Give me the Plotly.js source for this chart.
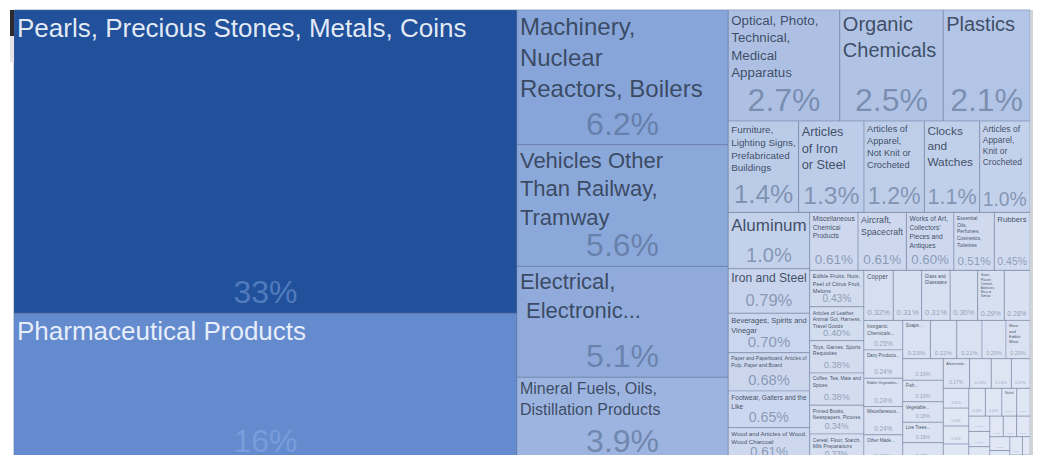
<!DOCTYPE html>
<html>
<head>
<meta charset="utf-8">
<script src="https://cdn.plot.ly/plotly-3.0.1.min.js"></script>
<style>
html, body { margin: 0; padding: 0; background: #ffffff; overflow: hidden; }
#chart { width: 1048px; height: 472px; }
</style>
</head>
<body>
<div id="chart"></div>
<script>
// ---- data (shares of total, %) in the order the tiles are laid out ----
const categories = [
  "Pearls, Precious Stones, Metals, Coins",
  "Pharmaceutical Products",
  "Machinery, Nuclear Reactors, Boilers",
  "Vehicles Other Than Railway, Tramway",
  "Electrical, Electronic Machinery",
  "Mineral Fuels, Oils, Distillation Products",
  "Optical, Photo, Technical, Medical Apparatus",
  "Organic Chemicals",
  "Plastics",
  "Furniture, Lighting Signs, Prefabricated Buildings",
  "Articles of Iron or Steel",
  "Articles of Apparel, Not Knit or Crocheted",
  "Clocks and Watches",
  "Articles of Apparel, Knit or Crocheted",
  "Aluminum",
  "Iron and Steel",
  "Beverages, Spirits and Vinegar",
  "Paper and Paperboard, Articles of Pulp, Paper and Board",
  "Footwear, Gaiters and the Like",
  "Wood and Articles of Wood, Wood Charcoal",
  "Miscellaneous Chemical Products",
  "Aircraft, Spacecraft",
  "Works of Art, Collectors' Pieces and Antiques",
  "Essential Oils, Perfumes, Cosmetics, Toiletries",
  "Rubbers",
  "Edible Fruits, Nuts, Peel of Citrus Fruit, Melons",
  "Articles of Leather, Animal Gut, Harness, Travel Goods",
  "Toys, Games, Sports Requisites",
  "Coffee, Tea, Mate and Spices",
  "Printed Books, Newspapers, Pictures",
  "Cereal, Flour, Starch, Milk Preparations",
  "Copper",
  "Ships, Boats and Floating Structures",
  "Glass and Glassware",
  "Tanning or Dyeing Extracts",
  "Stone, Plaster, Cement, Asbestos, Mica or Similar",
  "Railway, Tramway Locomotives",
  "Inorganic Chemicals",
  "Dairy Products",
  "Edible Vegetables",
  "Miscellaneous Edible Preparations",
  "Other Made Up Textile Articles",
  "Soaps, Lubricants, Waxes",
  "Tools, Implements, Cutlery",
  "Photographic or Cinematographic Goods",
  "Ceramic Products",
  "Meat and Edible Meat Offal",
  "Sugars and Sugar Confectionery",
  "Fish and Crustaceans",
  "Vegetable, Fruit, Nut Preparations",
  "Live Trees and Other Plants",
  "Knitted or Crocheted Fabrics",
  "Albuminoidal Substances",
  "Cocoa and Cocoa Preparations",
  "Arms and Ammunition",
  "Musical Instruments",
  "Tobacco",
  "Lac, Gums, Resins",
  "Headgear",
  "Umbrellas, Walking-Sticks",
  "Preparations of Meat, Fish",
  "Miscellaneous Articles of Base Metal",
  "Nickel",
  "Zinc",
  "Tin",
  "Lead",
  "Cotton",
  "Silk",
  "Fertilizers",
  "Salt, Sulphur, Earth, Stone",
  "Animal, Vegetable Fats and Oils",
  "Explosives",
  "Man-made Filaments",
  "Carpets",
  "Feathers"
];

const shareValues = [
  33.2, 16.3,
  6.2, 5.6, 5.1, 3.9,
  2.7, 2.5, 2.1,
  1.4, 1.3, 1.2, 1.1, 1.0,
  1.0, 0.79, 0.70, 0.68, 0.65, 0.61,
  0.61, 0.61, 0.60, 0.51, 0.45,
  0.43, 0.40, 0.38, 0.38, 0.34, 0.33,
  0.32, 0.31, 0.31, 0.30, 0.29, 0.28,
  0.25, 0.24, 0.24, 0.24, 0.23, 0.23,
  0.22, 0.21, 0.20, 0.20, 0.19,
  0.19, 0.18, 0.18, 0.17, 0.17,
  0.14, 0.13, 0.12, 0.11,
  0.10, 0.10, 0.10, 0.10, 0.10,
  0.09, 0.08, 0.07, 0.07, 0.07, 0.06, 0.06, 0.06, 0.06, 0.05, 0.05, 0.03, 0.03
];

// tile captions as they are broken in the picture ("" = no caption shown)
const tileCaptions = [
  "Pearls, Precious Stones, Metals, Coins",
  "Pharmaceutical Products",
  "Machinery,<br>Nuclear<br>Reactors, Boilers",
  "Vehicles Other<br>Than Railway,<br>Tramway",
  "Electrical,<br> Electronic...",
  "Mineral Fuels, Oils,<br>Distillation Products",
  "Optical, Photo,<br>Technical,<br>Medical<br>Apparatus",
  "Organic<br>Chemicals",
  "Plastics",
  "Furniture,<br>Lighting Signs,<br>Prefabricated<br>Buildings",
  "Articles<br>of Iron<br>or Steel",
  "Articles of<br>Apparel,<br>Not Knit or<br>Crocheted",
  "Clocks<br>and<br>Watches",
  "Articles of<br>Apparel,<br>Knit or<br>Crocheted",
  "Aluminum",
  "Iron and Steel",
  "Beverages, Spirits and<br>Vinegar",
  "Paper and Paperboard, Articles of<br>Pulp, Paper and Board",
  "Footwear, Gaiters and the<br>Like",
  "Wood and Articles of Wood,<br>Wood Charcoal",
  "Miscellaneous<br>Chemical<br>Products",
  "Aircraft,<br>Spacecraft",
  "Works of Art,<br>Collectors'<br>Pieces and<br>Antiques",
  "Essential<br>Oils,<br>Perfumes,<br>Cosmetics,<br>Toiletries",
  "Rubbers",
  "Edible Fruits, Nuts,<br>Peel of Citrus Fruit,<br>Melons",
  "Articles of Leather,<br>Animal Gut, Harness,<br>Travel Goods",
  "Toys, Games, Sports<br>Requisites",
  "Coffee, Tea, Mate and<br>Spices",
  "Printed Books,<br>Newspapers, Pictures",
  "Cereal, Flour, Starch,<br>Milk Preparations",
  "Copper",
  "",
  "Glass and<br>Glassware",
  "",
  "Stone,<br>Plaster,<br>Cement,<br>Asbestos,<br>Mica or<br>Similar",
  "",
  "Inorganic<br>Chemicals...",
  "Dairy Products...",
  "Edible Vegetables...",
  "Miscellaneous...",
  "Other Made...",
  "Soaps...",
  "", "", "",
  "Meat<br>and<br>Edible<br>Meat...",
  "",
  "Fish...",
  "Vegetable...",
  "Live Trees...",
  "",
  "Albuminoids...",
  "", "", "", "",
  "", "", "", "", "",
  "Nickel",
  "", "", "", "", "", "", "", "", "", "", "", ""
];

// ---- styling derived from the values ----
const colorAnchors = [
  [0.03, "#e3e9f5"], [0.1, "#dfe6f4"], [0.3, "#d7e0f1"], [0.6, "#cdd8ee"],
  [1.0, "#c3d1eb"], [1.4, "#bacbe8"], [2.5, "#b0c3e5"], [3.9, "#9cb4df"],
  [6.0, "#88a6d9"], [16, "#668dcf"], [33.2, "#22519b"]
];
const lmin = Math.log10(colorAnchors[0][0]);
const lmax = Math.log10(colorAnchors[colorAnchors.length - 1][0]);
const colorscale = colorAnchors.map(([v, c]) => [(Math.log10(v) - lmin) / (lmax - lmin), c]);
const colorValues = shareValues.map(v => Math.log10(v));

const parents = categories.map(() => "");
const FONT = "Liberation Sans, Arial, Helvetica, sans-serif";

const lineCount = tileCaptions.map(t => t.split("<br>").length);
const labelSizes = shareValues.map((v, i) => {
  const cap = v >= 10 ? 26 : v >= 6 ? 24 : v >= 5 ? 22 : v >= 3 ? 16 : v >= 1 ? 20 : Math.max(4.5, 20 * v);
  return Math.max(1, Math.min(cap, 34 * Math.pow(v, 0.45) / lineCount[i]));
});
const labelColors = shareValues.map(v => v >= 10 ? "rgba(240,245,252,0.95)" : "rgba(52,66,88,0.92)");
const pctSizes = shareValues.map(v => Math.min(32, 20 * Math.pow(v, 0.8)));
const pctColors = shareValues.map(v => v >= 10 ? "rgba(150,185,240,0.42)" : "rgba(70,90,125,0.5)");

const common = {
  type: "treemap",
  labels: categories,
  parents: parents,
  values: shareValues,
  branchvalues: "remainder",
  sort: false,
  tiling: { packing: "squarify", squarifyratio: 1.618034, pad: 0 },
  pathbar: { visible: false },
  domain: { x: [0, 1], y: [0, 1] },
  hoverinfo: "none",
  leaf: { opacity: 1 }
};

const tiles = Object.assign({}, common, {
  text: tileCaptions,
  texttemplate: "%{text}",
  textposition: "top left",
  textfont: { family: FONT, size: labelSizes, color: labelColors },
  insidetextfont: { family: FONT, size: labelSizes, color: labelColors },
  marker: {
    colors: colorValues,
    colorscale: colorscale,
    cmin: lmin, cmax: lmax,
    showscale: false,
    depthfade: false,
    pad: { t: 0, l: 0, r: 0, b: 0 },
    line: { width: 1, color: "rgba(95,115,155,0.35)" }
  }
});

const shares = Object.assign({}, common, {
  texttemplate: "%{percentRoot:.2p}",
  textposition: "bottom center",
  textfont: { family: FONT, size: pctSizes, color: pctColors },
  insidetextfont: { family: FONT, size: pctSizes, color: pctColors },
  marker: {
    colors: shareValues.map(() => "rgba(0,0,0,0)"),
    depthfade: false,
    pad: { t: 0, l: 0, r: 0, b: 0 },
    line: { width: 0 }
  }
});

const layout = {
  width: 1048,
  height: 472,
  margin: { l: 14, r: 18, t: 10, b: 10 },
  paper_bgcolor: "#ffffff",
  showlegend: false,
  font: { family: FONT },
  shapes: [
    { type: "rect", xref: "paper", yref: "paper", xsizemode: "pixel", ysizemode: "pixel",
      xanchor: 0, yanchor: 1, x0: -4, x1: 0, y0: -26, y1: 0,
      fillcolor: "#2b2b2b", line: { width: 0 } },
    { type: "rect", xref: "paper", yref: "paper", xsizemode: "pixel", ysizemode: "pixel",
      xanchor: 0, yanchor: 1, x0: -4, x1: 0, y0: -52, y1: -26,
      fillcolor: "#e4e4e4", line: { width: 0 } },
    { type: "rect", xref: "paper", yref: "paper", xsizemode: "pixel",
      xanchor: 1, x0: 0, x1: 3, y0: 0, y1: 1,
      fillcolor: "#cfd2d6", line: { width: 0 } }
  ]
};

Plotly.newPlot("chart", [tiles, shares], layout, { displayModeBar: false, staticPlot: true });
</script>
</body>
</html>
